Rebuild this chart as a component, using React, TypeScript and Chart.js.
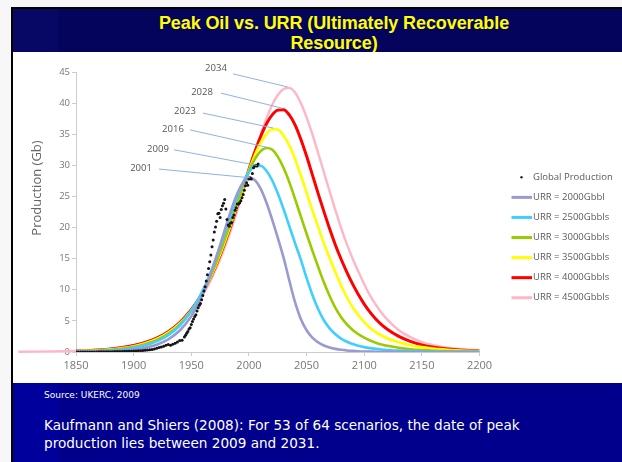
import { useEffect, useRef } from 'react';
import { Chart, registerables } from 'chart.js';

Chart.register(...registerables);

// ---------- DATA ----------
const years = [
  1850, 1860, 1870, 1880, 1890, 1900, 1910, 1920, 1930, 1940, 1950,
  1955, 1960, 1965, 1970, 1975, 1980, 1985, 1990, 1995, 2000,
  2005, 2010, 2015, 2020, 2025, 2030, 2035, 2040, 2045, 2050,
  2055, 2060, 2065, 2070, 2075, 2080, 2085, 2090, 2095, 2100,
  2105, 2110, 2115, 2120,
  2130, 2140, 2150, 2160, 2170, 2180, 2190, 2200,
];

const urr2000 = [
  0.02, 0.04, 0.07, 0.13, 0.22, 0.39, 0.68, 1.18, 2.03, 3.45, 5.76,
  7.36, 9.31, 11.62, 14.27, 17.17, 20.18, 23.05, 25.5, 27.22, 27.98,
  27.65, 26.29, 24.1, 21.36, 18.38, 15.2, 11.5, 8.0, 5.3, 3.5,
  2.3, 1.55, 1.05, 0.72, 0.5, 0.35, 0.25, 0.18, 0.13, 0.09,
  0.07, 0.05, 0.04, 0.03,
  0.02, 0.01, 0.01, 0.01, 0, 0, 0, 0,
];

const urr2500 = [
  0.06, 0.1, 0.16, 0.26, 0.41, 0.67, 1.07, 1.71, 2.71, 4.26, 6.58,
  8.1, 9.91, 11.99, 14.36, 16.95, 19.69, 22.44, 25.03, 27.26, 28.92,
  29.84, 29.93, 29.17, 27.64, 25.51, 22.98, 20.24, 17.49, 14.86, 11.9,
  9.2, 6.9, 5.1, 3.8, 2.85, 2.15, 1.65, 1.27, 1.0, 0.78,
  0.62, 0.5, 0.4, 0.33,
  0.22, 0.15, 0.1, 0.07, 0.05, 0.04, 0.03, 0.02,
];

const urr3000 = [
  0.09, 0.14, 0.22, 0.34, 0.53, 0.81, 1.25, 1.91, 2.91, 4.41, 6.57,
  7.96, 9.6, 11.5, 13.65, 16.05, 18.65, 21.37, 24.13, 26.76, 29.09,
  30.97, 32.24, 32.78, 32.55, 31.4, 29.6, 27.3, 24.6, 21.8, 19.0,
  16.3, 13.7, 11.2, 9.0, 7.1, 5.6, 4.45, 3.55, 2.85, 2.3,
  1.85, 1.5, 1.22, 1.0,
  0.67, 0.45, 0.3, 0.2, 0.14, 0.1, 0.07, 0.05,
];

const urr3500 = [
  0.12, 0.19, 0.28, 0.42, 0.63, 0.94, 1.41, 2.1, 3.11, 4.58, 6.67,
  8.01, 9.56, 11.36, 13.4, 15.7, 18.2, 20.9, 23.69, 26.49, 29.18,
  31.58, 33.56, 34.97, 35.8, 35.75, 34.8, 33.2, 31.0, 28.4, 25.6,
  22.8, 20.1, 17.5, 15.1, 12.8, 10.7, 8.8, 7.2, 5.9, 4.8,
  3.9, 3.2, 2.65, 2.2,
  1.55, 1.1, 0.78, 0.55, 0.4, 0.28, 0.2, 0.14,
];

const urr4000 = [
  0.15, 0.22, 0.33, 0.48, 0.71, 1.05, 1.53, 2.24, 3.27, 4.73, 6.79,
  8.09, 9.6, 11.34, 13.32, 15.56, 18.03, 20.7, 23.53, 26.45, 29.35,
  32.1, 34.56, 36.6, 38.07, 38.87, 38.94, 38.1, 36.5, 34.2, 31.5,
  28.5, 25.5, 22.6, 19.8, 17.2, 14.9, 12.8, 10.9, 9.2, 7.7,
  6.4, 5.3, 4.4, 3.65,
  2.5, 1.7, 1.15, 0.78, 0.53, 0.36, 0.25, 0.17,
];

const urr4500 = [
  0.16, 0.24, 0.35, 0.5, 0.73, 1.06, 1.54, 2.23, 3.22, 4.61, 6.55,
  7.78, 9.22, 10.87, 12.77, 14.91, 17.31, 19.95, 22.79, 25.79, 28.85,
  31.92, 34.83, 37.46, 39.66, 41.3, 42.26, 42.45, 41.7, 40.0, 37.7,
  35.0, 32.0, 28.9, 25.8, 22.8, 19.9, 17.3, 15.0, 12.9, 10.9,
  9.1, 7.6, 6.3, 5.2,
  3.5, 2.4, 1.6, 1.1, 0.75, 0.52, 0.37, 0.27,
];
// the pink curve starts left of the axis
const urr4500LeadInYear = 1800;
const urr4500LeadInValue = 0.03;

const prodYears = [
  1850, 1852, 1854, 1856, 1858, 1860, 1862, 1864, 1866, 1868,
  1870, 1872, 1874, 1876, 1878, 1880, 1882, 1884, 1886, 1888,
  1890, 1892, 1894, 1896, 1898, 1900, 1902, 1904, 1906, 1908,
  1910, 1912, 1914, 1916, 1918, 1920, 1922, 1924, 1926, 1928,
  1930, 1932, 1934, 1936, 1938, 1940, 1942, 1944,
  1945, 1946, 1947, 1948, 1949, 1950, 1951, 1952, 1953, 1954,
  1955, 1956, 1957, 1958, 1959, 1960, 1961, 1962, 1963, 1964,
  1965, 1966, 1967, 1968, 1969, 1970, 1971, 1972, 1973, 1974,
  1975, 1976, 1977, 1978, 1979, 1980, 1981, 1982, 1983, 1984,
  1985, 1986, 1987, 1988, 1989, 1990, 1991, 1992, 1993, 1994,
  1995, 1996, 1997, 1998, 1999, 2000, 2001, 2002, 2003, 2004,
  2005, 2006, 2007, 2008,
];

const prodValues = [
  0, 0, 0, 0, 0, 0, 0.01, 0.01, 0.02, 0.02,
  0.03, 0.03, 0.04, 0.04, 0.05, 0.05, 0.06, 0.07, 0.08, 0.09,
  0.1, 0.11, 0.12, 0.13, 0.14, 0.15, 0.17, 0.2, 0.22, 0.26,
  0.3, 0.34, 0.38, 0.42, 0.48, 0.6, 0.72, 0.82, 0.92, 1.1,
  1.2, 1.1, 1.25, 1.4, 1.6, 1.85, 1.9, 2.4,
  2.7, 3.0, 3.3, 3.7, 3.9, 4.4, 4.9, 5.3, 5.7, 6.0,
  6.6, 7.1, 7.5, 7.8, 8.4, 9.1, 9.8, 10.5, 11.4, 12.4,
  13.4, 14.5, 15.6, 16.9, 18.0, 19.3, 20.1, 21.0, 22.2, 22.3,
  21.6, 22.9, 23.5, 23.9, 24.5, 23.0, 21.3, 20.4, 20.2, 20.7,
  20.8, 21.6, 22.0, 22.8, 23.2, 23.8, 23.8, 24.0, 24.3, 24.8,
  25.3, 26.0, 26.7, 27.2, 26.8, 27.8, 28.0, 27.8, 28.7, 29.6,
  29.9, 30.0, 29.9, 30.2,
];

const xTickValues = [1850, 1900, 1950, 2000, 2050, 2100, 2150, 2200];
const yTickValues = [0, 5, 10, 15, 20, 25, 30, 35, 40, 45];

const productionLabel = 'Global Production';
const seriesLabels = [
  'URR = 2000Gbbl',
  'URR = 2500Gbbls',
  'URR = 3000Gbbls',
  'URR = 3500Gbbls',
  'URR = 4000Gbbls',
  'URR = 4500Gbbls',
];

// peak call-outs: label, text anchor (year, value), leader start, leader end (peak)
const peakLabels = ['2001', '2009', '2016', '2023', '2028', '2034'];
const peakTextYear = [1906.4, 1921.1, 1934.1, 1944.5, 1959.3, 1971.4];
const peakTextValue = [29.6, 32.6, 35.8, 38.7, 41.8, 45.6];
const peakFromYear = [1922, 1935, 1948.9, 1960.1, 1975.8, 1986.2];
const peakFromValue = [29.4, 32.5, 35.7, 38.4, 41.6, 44.7];
const peakToYear = [2001, 2007, 2015.7, 2021, 2028.5, 2033.5];
const peakToValue = [28.0, 30.0, 32.9, 36.0, 39.2, 42.6];

// ---------- STYLE ----------
const seriesColors = ['#9a9ad2', '#3fcfff', '#99cc00', '#ffff00', '#ff0000', '#ffb6c6'];
const seriesWidths = [2.6, 2.6, 2.6, 2.6, 3, 2.4];
const TICK_COLOR = '#777777';
const AXIS_COLOR = '#cccccc';

const peakNotesPlugin = {
  id: 'peakNotes',
  afterDatasetsDraw(chart: any) {
    const { ctx, scales } = chart;
    const sx = scales.x;
    const sy = scales.y;
    ctx.save();
    ctx.strokeStyle = '#8ab4e4';
    ctx.lineWidth = 1;
    peakLabels.forEach((_, i) => {
      ctx.beginPath();
      ctx.moveTo(sx.getPixelForValue(peakFromYear[i]), sy.getPixelForValue(peakFromValue[i]));
      ctx.lineTo(sx.getPixelForValue(peakToYear[i]), sy.getPixelForValue(peakToValue[i]));
      ctx.stroke();
    });
    ctx.fillStyle = '#555555';
    ctx.font = '9.5px "Open Sans"';
    ctx.textAlign = 'center';
    ctx.textBaseline = 'middle';
    peakLabels.forEach((lab, i) => {
      ctx.fillText(lab, sx.getPixelForValue(peakTextYear[i]), sy.getPixelForValue(peakTextValue[i]));
    });
    ctx.restore();
  },
};

const sideLegendPlugin = {
  id: 'sideLegend',
  afterDraw(chart: any) {
    const { ctx, chartArea } = chart;
    const x0 = chartArea.right + 32;
    ctx.save();
    ctx.font = '9.5px "Open Sans"';
    ctx.textBaseline = 'middle';
    ctx.textAlign = 'left';
    chart.data.datasets.forEach((ds: any, i: number) => {
      const y = chartArea.top + 105.3 + i * 20.07;
      if (i === 0) {
        ctx.fillStyle = '#222';
        ctx.beginPath();
        ctx.arc(x0 + 10, y, 1.2, 0, Math.PI * 2);
        ctx.fill();
      } else {
        ctx.strokeStyle = ds.borderColor;
        ctx.lineWidth = 3;
        ctx.beginPath();
        ctx.moveTo(x0, y);
        ctx.lineTo(x0 + 20.5, y);
        ctx.stroke();
      }
      ctx.fillStyle = '#5a5a5a';
      ctx.fillText(ds.label, x0 + 21.5, y);
    });
    ctx.restore();
  },
};

const yTitlePlugin = {
  id: 'yTitle',
  afterDraw(chart: any) {
    const { ctx, chartArea } = chart;
    ctx.save();
    ctx.translate(chartArea.left - 38.3, chartArea.top + 116);
    ctx.rotate(-Math.PI / 2);
    ctx.font = '13px "Open Sans"';
    ctx.fillStyle = '#666666';
    ctx.textAlign = 'center';
    ctx.textBaseline = 'middle';
    ctx.fillText('Production (Gb)', 0, 0);
    ctx.restore();
  },
};

function PeakOilChart() {
  const ref = useRef<HTMLCanvasElement | null>(null);

  useEffect(() => {
    if (!ref.current) return;
    const urrSeries = [urr2000, urr2500, urr3000, urr3500, urr4000, urr4500];
    const curveSets = urrSeries.map((vals, s) => {
      const pts = years.map((x, i) => ({ x, y: vals[i] }));
      if (s === 5) pts.unshift({ x: urr4500LeadInYear, y: urr4500LeadInValue });
      return {
        label: seriesLabels[s],
        data: pts,
        borderColor: seriesColors[s],
        backgroundColor: seriesColors[s],
        borderWidth: seriesWidths[s],
        pointRadius: 0,
        fill: false,
        cubicInterpolationMode: 'monotone' as const,
        clip: s === 5 ? (false as const) : undefined,
      };
    });

    const chart = new Chart(ref.current, {
      type: 'line',
      data: {
        datasets: [
          {
            label: productionLabel,
            data: prodYears.map((x, i) => ({ x, y: prodValues[i] })),
            showLine: false,
            pointRadius: 1.5,
            pointBorderWidth: 0,
            pointBackgroundColor: '#151515',
            borderColor: '#151515',
            backgroundColor: '#151515',
          },
          ...curveSets,
        ] as any,
      },
      options: {
        animation: false,
        responsive: false,
        devicePixelRatio: 1,
        events: [],
        layout: { padding: { left: 0, top: 20, right: 142.5, bottom: 7 } },
        plugins: {
          legend: { display: false },
          tooltip: { enabled: false },
          title: { display: false },
        },
        scales: {
          x: {
            type: 'linear',
            min: 1850,
            max: 2200,
            afterBuildTicks: (s: any) => {
              s.ticks = xTickValues.map((v) => ({ value: v }));
            },
            afterFit: (s: any) => {
              s.height = 24;
            },
            ticks: {
              autoSkip: false,
              maxRotation: 0,
              padding: 3,
              color: TICK_COLOR,
              font: { family: 'Open Sans', size: 11 },
              callback: (v: any) => String(v),
            },
            grid: { display: true, drawOnChartArea: false, tickLength: 4, color: AXIS_COLOR },
            border: { display: true, color: AXIS_COLOR },
          },
          y: {
            type: 'linear',
            min: 0,
            max: 45,
            afterBuildTicks: (s: any) => {
              s.ticks = yTickValues.map((v) => ({ value: v }));
            },
            afterFit: (s: any) => {
              s.width = 63;
            },
            ticks: {
              padding: 2,
              color: TICK_COLOR,
              font: { family: 'Open Sans', size: 9.5 },
              callback: (v: any) => String(v),
            },
            grid: { display: true, drawOnChartArea: false, tickLength: 4, color: AXIS_COLOR },
            border: { display: true, color: AXIS_COLOR },
          },
        },
      } as any,
      plugins: [peakNotesPlugin, sideLegendPlugin, yTitlePlugin],
    });
    return () => chart.destroy();
  }, []);

  return <canvas ref={ref} width={609} height={331} style={{ display: 'block', width: 609, height: 331 }} />;
}

export default function App() {
  return (
    <div
      style={{
        position: 'fixed',
        left: 0,
        top: 0,
        width: 622,
        height: 462,
        background: '#f7f7f7',
        overflow: 'hidden',
      }}
    >
      {/* black frame */}
      <div style={{ position: 'absolute', left: 11, top: 7, width: 611, height: 455, background: '#000' }} />
      {/* title band */}
      <div
        style={{
          position: 'absolute',
          left: 13,
          top: 9,
          width: 609,
          height: 43,
          background: '#04045c',
          overflow: 'hidden',
        }}
      >
        <div style={{ position: 'absolute', left: 0, top: 0, width: 45, height: 43, background: '#070766' }} />
        <div
          style={{
            position: 'relative',
            paddingTop: 4,
            paddingLeft: 33,
            textAlign: 'center',
            color: '#ffff00',
            fontFamily: '"Liberation Sans", Arial, sans-serif',
            fontWeight: 'bold',
            fontSize: 18,
            lineHeight: '20px',
            letterSpacing: -0.1,
          }}
        >
          Peak Oil vs. URR (Ultimately Recoverable
          <br />
          Resource)
        </div>
      </div>
      {/* white chart area */}
      <div style={{ position: 'absolute', left: 13, top: 52, width: 609, height: 331, background: '#fff' }}>
        <PeakOilChart />
      </div>
      {/* bottom band */}
      <div
        style={{
          position: 'absolute',
          left: 13,
          top: 383,
          width: 609,
          height: 79,
          background: '#00008c',
          overflow: 'hidden',
        }}
      >
        <div style={{ position: 'absolute', left: 0, top: 0, width: 45, height: 79, background: '#00009c' }} />
        <div
          style={{
            position: 'absolute',
            left: 31,
            top: 6.7,
            color: '#fff',
            fontFamily: '"DejaVu Sans", sans-serif',
            fontSize: 9,
            lineHeight: '11px',
            whiteSpace: 'nowrap',
          }}
        >
          Source: UKERC, 2009
        </div>
        <div
          style={{
            position: 'absolute',
            left: 31,
            top: 32.6,
            color: '#fff',
            fontFamily: '"DejaVu Sans", sans-serif',
            fontSize: 13.6,
            lineHeight: '18px',
            whiteSpace: 'nowrap',
          }}
        >
          Kaufmann and Shiers (2008): For 53 of 64 scenarios, the date of peak
          <br />
          production lies between 2009 and 2031.
        </div>
      </div>
    </div>
  );
}
